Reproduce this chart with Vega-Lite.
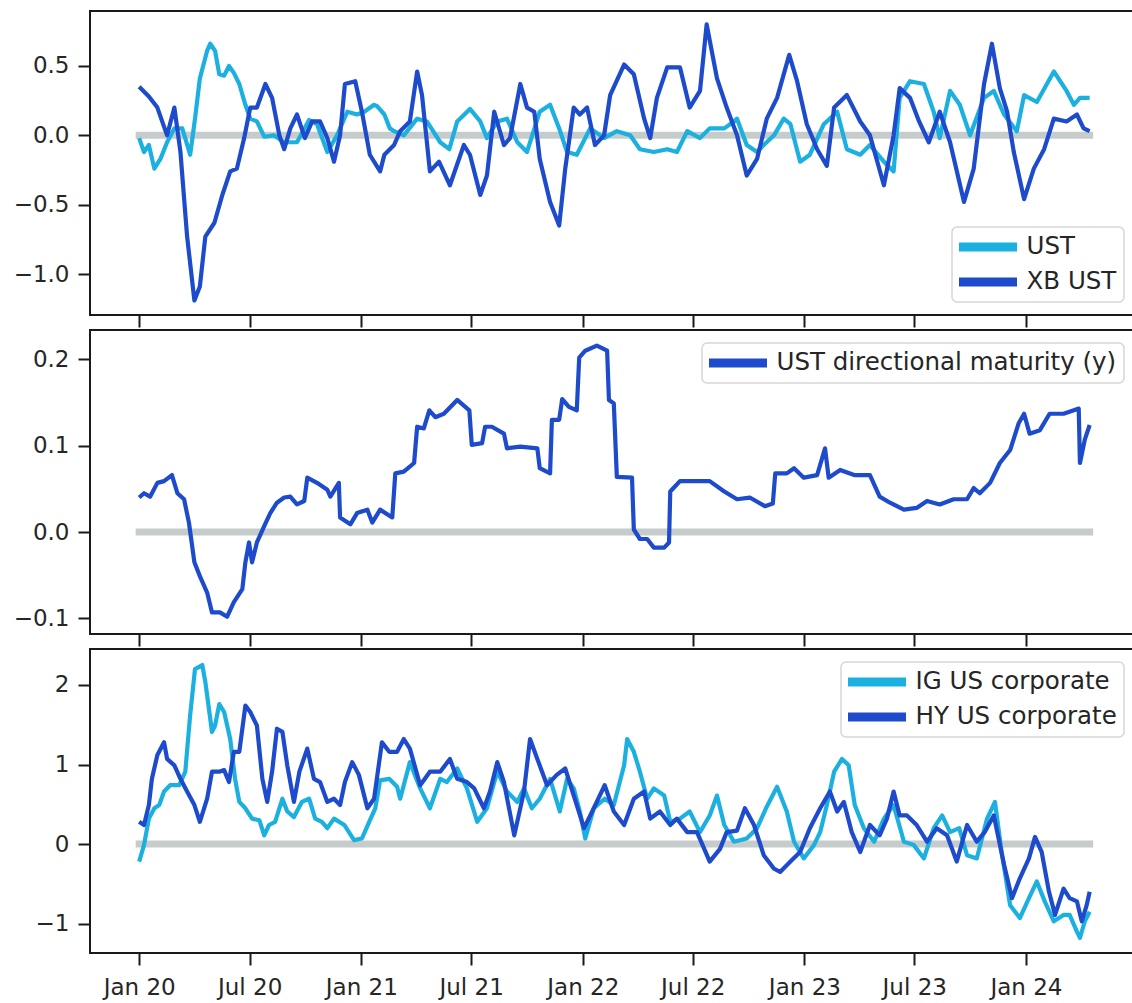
{
  "$schema": "https://vega.github.io/schema/vega-lite/v6.json",
  "background": "white",
  "padding": {"left": 12, "top": 10, "right": 0, "bottom": 0},
  "spacing": 15,
  "bounds": "flush",
  "resolve": {"scale": {"color": "independent", "x": "independent", "y": "independent"}, "legend": {"color": "independent"}},
  "config": {
    "font": "DejaVu Sans",
    "view": {"stroke": "#1a1a1a", "strokeWidth": 2},
    "axis": {"grid": false, "domain": false, "tickSize": 12, "tickWidth": 2, "tickColor": "#1a1a1a", "labelFont": "DejaVu Sans", "labelFontSize": 23, "labelColor": "#262626", "labelPadding": 9, "labelFlush": false, "labelOverlap": false},
    "legend": {"title": null, "symbolType": "stroke", "symbolSize": 3364, "symbolStrokeWidth": 9, "labelFont": "DejaVu Sans", "labelFontSize": 24.5, "labelColor": "#262626", "strokeColor": "#d6d6d6", "strokeWidth": 1.5, "fillColor": "rgba(255,255,255,0.85)", "cornerRadius": 5, "padding": 7, "clipHeight": 26, "rowPadding": 9, "labelOffset": 5, "symbolOffset": -4.5, "offset": 13, "labelLimit": 500}
  },
  "datasets": {
    "zero": [{"date": "2020-01-01", "value": 0}, {"date": "2024-04-15", "value": 0}],
    "ust": [
      {"date": "2020-01-01", "series": "UST", "value": -0.02},
      {"date": "2020-01-09", "series": "UST", "value": -0.12},
      {"date": "2020-01-17", "series": "UST", "value": -0.07},
      {"date": "2020-01-26", "series": "UST", "value": -0.24},
      {"date": "2020-02-05", "series": "UST", "value": -0.17},
      {"date": "2020-02-16", "series": "UST", "value": -0.05},
      {"date": "2020-02-28", "series": "UST", "value": 0.05},
      {"date": "2020-03-12", "series": "UST", "value": 0.05},
      {"date": "2020-03-25", "series": "UST", "value": -0.14},
      {"date": "2020-04-02", "series": "UST", "value": 0.12},
      {"date": "2020-04-10", "series": "UST", "value": 0.41},
      {"date": "2020-04-22", "series": "UST", "value": 0.61},
      {"date": "2020-04-27", "series": "UST", "value": 0.66},
      {"date": "2020-05-05", "series": "UST", "value": 0.61},
      {"date": "2020-05-12", "series": "UST", "value": 0.44},
      {"date": "2020-05-20", "series": "UST", "value": 0.43},
      {"date": "2020-05-28", "series": "UST", "value": 0.50},
      {"date": "2020-06-05", "series": "UST", "value": 0.45},
      {"date": "2020-06-14", "series": "UST", "value": 0.37},
      {"date": "2020-06-24", "series": "UST", "value": 0.22},
      {"date": "2020-07-02", "series": "UST", "value": 0.12},
      {"date": "2020-07-13", "series": "UST", "value": 0.10},
      {"date": "2020-07-25", "series": "UST", "value": -0.01},
      {"date": "2020-08-10", "series": "UST", "value": 0.0},
      {"date": "2020-08-27", "series": "UST", "value": -0.05},
      {"date": "2020-09-17", "series": "UST", "value": -0.05},
      {"date": "2020-10-07", "series": "UST", "value": 0.11},
      {"date": "2020-10-20", "series": "UST", "value": 0.08},
      {"date": "2020-11-06", "series": "UST", "value": -0.12},
      {"date": "2020-11-22", "series": "UST", "value": 0.0},
      {"date": "2020-12-09", "series": "UST", "value": 0.17},
      {"date": "2020-12-25", "series": "UST", "value": 0.15},
      {"date": "2021-01-06", "series": "UST", "value": 0.17},
      {"date": "2021-01-22", "series": "UST", "value": 0.22},
      {"date": "2021-01-27", "series": "UST", "value": 0.21},
      {"date": "2021-02-08", "series": "UST", "value": 0.15},
      {"date": "2021-02-17", "series": "UST", "value": 0.05},
      {"date": "2021-02-24", "series": "UST", "value": 0.03},
      {"date": "2021-03-12", "series": "UST", "value": 0.0},
      {"date": "2021-04-03", "series": "UST", "value": 0.12},
      {"date": "2021-04-19", "series": "UST", "value": 0.10},
      {"date": "2021-05-11", "series": "UST", "value": -0.05},
      {"date": "2021-05-26", "series": "UST", "value": -0.10},
      {"date": "2021-06-08", "series": "UST", "value": 0.10},
      {"date": "2021-06-29", "series": "UST", "value": 0.19},
      {"date": "2021-07-16", "series": "UST", "value": 0.10},
      {"date": "2021-07-27", "series": "UST", "value": -0.02},
      {"date": "2021-08-13", "series": "UST", "value": 0.10},
      {"date": "2021-08-29", "series": "UST", "value": 0.12},
      {"date": "2021-09-15", "series": "UST", "value": -0.05},
      {"date": "2021-10-01", "series": "UST", "value": -0.12},
      {"date": "2021-10-22", "series": "UST", "value": 0.17},
      {"date": "2021-11-08", "series": "UST", "value": 0.22},
      {"date": "2021-11-23", "series": "UST", "value": 0.05},
      {"date": "2021-12-06", "series": "UST", "value": -0.12},
      {"date": "2021-12-22", "series": "UST", "value": -0.14},
      {"date": "2022-01-13", "series": "UST", "value": 0.05},
      {"date": "2022-02-05", "series": "UST", "value": -0.02},
      {"date": "2022-02-26", "series": "UST", "value": 0.03},
      {"date": "2022-03-20", "series": "UST", "value": 0.0},
      {"date": "2022-04-05", "series": "UST", "value": -0.10},
      {"date": "2022-04-28", "series": "UST", "value": -0.12},
      {"date": "2022-05-20", "series": "UST", "value": -0.10},
      {"date": "2022-06-05", "series": "UST", "value": -0.12},
      {"date": "2022-06-22", "series": "UST", "value": 0.03},
      {"date": "2022-07-13", "series": "UST", "value": -0.02},
      {"date": "2022-07-29", "series": "UST", "value": 0.05},
      {"date": "2022-08-22", "series": "UST", "value": 0.05},
      {"date": "2022-09-07", "series": "UST", "value": 0.10},
      {"date": "2022-09-12", "series": "UST", "value": 0.12},
      {"date": "2022-09-28", "series": "UST", "value": -0.07},
      {"date": "2022-10-15", "series": "UST", "value": -0.12},
      {"date": "2022-10-26", "series": "UST", "value": -0.07},
      {"date": "2022-11-12", "series": "UST", "value": 0.0},
      {"date": "2022-11-28", "series": "UST", "value": 0.12},
      {"date": "2022-12-09", "series": "UST", "value": 0.08},
      {"date": "2022-12-25", "series": "UST", "value": -0.19},
      {"date": "2023-01-10", "series": "UST", "value": -0.14},
      {"date": "2023-02-02", "series": "UST", "value": 0.08},
      {"date": "2023-02-24", "series": "UST", "value": 0.17},
      {"date": "2023-03-12", "series": "UST", "value": -0.10},
      {"date": "2023-04-03", "series": "UST", "value": -0.14},
      {"date": "2023-04-19", "series": "UST", "value": -0.07},
      {"date": "2023-05-12", "series": "UST", "value": -0.19},
      {"date": "2023-05-28", "series": "UST", "value": -0.26},
      {"date": "2023-06-07", "series": "UST", "value": 0.27},
      {"date": "2023-06-24", "series": "UST", "value": 0.39},
      {"date": "2023-07-17", "series": "UST", "value": 0.37},
      {"date": "2023-08-02", "series": "UST", "value": 0.17},
      {"date": "2023-08-12", "series": "UST", "value": -0.02},
      {"date": "2023-08-29", "series": "UST", "value": 0.32},
      {"date": "2023-09-14", "series": "UST", "value": 0.22},
      {"date": "2023-10-01", "series": "UST", "value": 0.0},
      {"date": "2023-10-24", "series": "UST", "value": 0.27},
      {"date": "2023-11-09", "series": "UST", "value": 0.32},
      {"date": "2023-11-26", "series": "UST", "value": 0.15},
      {"date": "2023-12-17", "series": "UST", "value": 0.03},
      {"date": "2023-12-29", "series": "UST", "value": 0.29},
      {"date": "2024-01-19", "series": "UST", "value": 0.24},
      {"date": "2024-02-16", "series": "UST", "value": 0.46},
      {"date": "2024-03-08", "series": "UST", "value": 0.32},
      {"date": "2024-03-20", "series": "UST", "value": 0.22},
      {"date": "2024-03-30", "series": "UST", "value": 0.27},
      {"date": "2024-04-15", "series": "UST", "value": 0.27},
      {"date": "2020-01-01", "series": "XB UST", "value": 0.35},
      {"date": "2020-01-17", "series": "XB UST", "value": 0.28},
      {"date": "2020-01-31", "series": "XB UST", "value": 0.20},
      {"date": "2020-02-16", "series": "XB UST", "value": 0.0},
      {"date": "2020-02-28", "series": "XB UST", "value": 0.20},
      {"date": "2020-03-09", "series": "XB UST", "value": -0.12},
      {"date": "2020-03-20", "series": "XB UST", "value": -0.73},
      {"date": "2020-04-01", "series": "XB UST", "value": -1.19},
      {"date": "2020-04-10", "series": "XB UST", "value": -1.09},
      {"date": "2020-04-19", "series": "XB UST", "value": -0.73},
      {"date": "2020-05-04", "series": "XB UST", "value": -0.63},
      {"date": "2020-05-17", "series": "XB UST", "value": -0.43},
      {"date": "2020-05-30", "series": "XB UST", "value": -0.26},
      {"date": "2020-06-10", "series": "XB UST", "value": -0.24},
      {"date": "2020-06-22", "series": "XB UST", "value": -0.02},
      {"date": "2020-07-02", "series": "XB UST", "value": 0.20},
      {"date": "2020-07-13", "series": "XB UST", "value": 0.20},
      {"date": "2020-07-27", "series": "XB UST", "value": 0.37},
      {"date": "2020-08-07", "series": "XB UST", "value": 0.27},
      {"date": "2020-08-19", "series": "XB UST", "value": 0.0},
      {"date": "2020-08-27", "series": "XB UST", "value": -0.10},
      {"date": "2020-09-06", "series": "XB UST", "value": 0.05},
      {"date": "2020-09-17", "series": "XB UST", "value": 0.15},
      {"date": "2020-09-30", "series": "XB UST", "value": -0.02},
      {"date": "2020-10-12", "series": "XB UST", "value": 0.10},
      {"date": "2020-10-25", "series": "XB UST", "value": 0.10},
      {"date": "2020-11-06", "series": "XB UST", "value": -0.02},
      {"date": "2020-11-17", "series": "XB UST", "value": -0.19},
      {"date": "2020-11-27", "series": "XB UST", "value": 0.0},
      {"date": "2020-12-05", "series": "XB UST", "value": 0.37},
      {"date": "2020-12-22", "series": "XB UST", "value": 0.39},
      {"date": "2021-01-02", "series": "XB UST", "value": 0.17},
      {"date": "2021-01-15", "series": "XB UST", "value": -0.14},
      {"date": "2021-02-01", "series": "XB UST", "value": -0.26},
      {"date": "2021-02-08", "series": "XB UST", "value": -0.14},
      {"date": "2021-02-24", "series": "XB UST", "value": -0.07},
      {"date": "2021-03-06", "series": "XB UST", "value": 0.03},
      {"date": "2021-03-22", "series": "XB UST", "value": 0.10},
      {"date": "2021-04-03", "series": "XB UST", "value": 0.46},
      {"date": "2021-04-11", "series": "XB UST", "value": 0.29},
      {"date": "2021-04-24", "series": "XB UST", "value": -0.26},
      {"date": "2021-05-09", "series": "XB UST", "value": -0.19},
      {"date": "2021-05-27", "series": "XB UST", "value": -0.36},
      {"date": "2021-06-19", "series": "XB UST", "value": -0.07},
      {"date": "2021-06-29", "series": "XB UST", "value": -0.14},
      {"date": "2021-07-16", "series": "XB UST", "value": -0.43},
      {"date": "2021-07-27", "series": "XB UST", "value": -0.29},
      {"date": "2021-08-08", "series": "XB UST", "value": 0.17},
      {"date": "2021-08-24", "series": "XB UST", "value": -0.07},
      {"date": "2021-09-03", "series": "XB UST", "value": -0.02},
      {"date": "2021-09-20", "series": "XB UST", "value": 0.37},
      {"date": "2021-10-01", "series": "XB UST", "value": 0.20},
      {"date": "2021-10-13", "series": "XB UST", "value": 0.17},
      {"date": "2021-10-22", "series": "XB UST", "value": -0.17},
      {"date": "2021-11-08", "series": "XB UST", "value": -0.48},
      {"date": "2021-11-23", "series": "XB UST", "value": -0.65},
      {"date": "2021-12-03", "series": "XB UST", "value": -0.24},
      {"date": "2021-12-17", "series": "XB UST", "value": 0.20},
      {"date": "2021-12-27", "series": "XB UST", "value": 0.15},
      {"date": "2022-01-08", "series": "XB UST", "value": 0.20},
      {"date": "2022-01-21", "series": "XB UST", "value": -0.07},
      {"date": "2022-02-05", "series": "XB UST", "value": 0.0},
      {"date": "2022-02-15", "series": "XB UST", "value": 0.29},
      {"date": "2022-03-10", "series": "XB UST", "value": 0.51},
      {"date": "2022-03-26", "series": "XB UST", "value": 0.44},
      {"date": "2022-04-12", "series": "XB UST", "value": 0.12},
      {"date": "2022-04-22", "series": "XB UST", "value": -0.02},
      {"date": "2022-05-03", "series": "XB UST", "value": 0.27},
      {"date": "2022-05-20", "series": "XB UST", "value": 0.49},
      {"date": "2022-06-10", "series": "XB UST", "value": 0.49},
      {"date": "2022-06-26", "series": "XB UST", "value": 0.20},
      {"date": "2022-07-13", "series": "XB UST", "value": 0.32},
      {"date": "2022-07-24", "series": "XB UST", "value": 0.80},
      {"date": "2022-08-10", "series": "XB UST", "value": 0.41},
      {"date": "2022-08-26", "series": "XB UST", "value": 0.20},
      {"date": "2022-09-12", "series": "XB UST", "value": 0.0},
      {"date": "2022-09-28", "series": "XB UST", "value": -0.29},
      {"date": "2022-10-15", "series": "XB UST", "value": -0.17},
      {"date": "2022-10-31", "series": "XB UST", "value": 0.12},
      {"date": "2022-11-17", "series": "XB UST", "value": 0.27},
      {"date": "2022-12-07", "series": "XB UST", "value": 0.58},
      {"date": "2022-12-20", "series": "XB UST", "value": 0.39},
      {"date": "2023-01-05", "series": "XB UST", "value": 0.08},
      {"date": "2023-01-22", "series": "XB UST", "value": -0.10},
      {"date": "2023-02-07", "series": "XB UST", "value": -0.22},
      {"date": "2023-02-19", "series": "XB UST", "value": 0.20},
      {"date": "2023-03-12", "series": "XB UST", "value": 0.29},
      {"date": "2023-04-03", "series": "XB UST", "value": 0.10},
      {"date": "2023-04-19", "series": "XB UST", "value": 0.0},
      {"date": "2023-05-12", "series": "XB UST", "value": -0.36},
      {"date": "2023-05-28", "series": "XB UST", "value": 0.0},
      {"date": "2023-06-07", "series": "XB UST", "value": 0.34},
      {"date": "2023-06-24", "series": "XB UST", "value": 0.27},
      {"date": "2023-07-09", "series": "XB UST", "value": 0.10},
      {"date": "2023-07-25", "series": "XB UST", "value": -0.05},
      {"date": "2023-08-12", "series": "XB UST", "value": 0.17},
      {"date": "2023-08-29", "series": "XB UST", "value": -0.05},
      {"date": "2023-09-21", "series": "XB UST", "value": -0.48},
      {"date": "2023-10-07", "series": "XB UST", "value": -0.24},
      {"date": "2023-10-24", "series": "XB UST", "value": 0.37},
      {"date": "2023-11-06", "series": "XB UST", "value": 0.66},
      {"date": "2023-11-19", "series": "XB UST", "value": 0.34},
      {"date": "2023-12-01", "series": "XB UST", "value": 0.17},
      {"date": "2023-12-12", "series": "XB UST", "value": -0.12},
      {"date": "2023-12-29", "series": "XB UST", "value": -0.46},
      {"date": "2024-01-14", "series": "XB UST", "value": -0.24},
      {"date": "2024-01-31", "series": "XB UST", "value": -0.10},
      {"date": "2024-02-16", "series": "XB UST", "value": 0.12},
      {"date": "2024-03-08", "series": "XB UST", "value": 0.10},
      {"date": "2024-03-25", "series": "XB UST", "value": 0.15},
      {"date": "2024-04-05", "series": "XB UST", "value": 0.05},
      {"date": "2024-04-15", "series": "XB UST", "value": 0.03}
    ],
    "dm": [
      {"date": "2020-01-01", "series": "UST directional maturity (y)", "value": 0.040},
      {"date": "2020-01-09", "series": "UST directional maturity (y)", "value": 0.045},
      {"date": "2020-01-19", "series": "UST directional maturity (y)", "value": 0.041},
      {"date": "2020-01-31", "series": "UST directional maturity (y)", "value": 0.057},
      {"date": "2020-02-11", "series": "UST directional maturity (y)", "value": 0.059},
      {"date": "2020-02-24", "series": "UST directional maturity (y)", "value": 0.066},
      {"date": "2020-03-04", "series": "UST directional maturity (y)", "value": 0.045},
      {"date": "2020-03-15", "series": "UST directional maturity (y)", "value": 0.038},
      {"date": "2020-03-23", "series": "UST directional maturity (y)", "value": 0.011},
      {"date": "2020-04-01", "series": "UST directional maturity (y)", "value": -0.035},
      {"date": "2020-04-10", "series": "UST directional maturity (y)", "value": -0.051},
      {"date": "2020-04-22", "series": "UST directional maturity (y)", "value": -0.070},
      {"date": "2020-04-30", "series": "UST directional maturity (y)", "value": -0.093},
      {"date": "2020-05-13", "series": "UST directional maturity (y)", "value": -0.093},
      {"date": "2020-05-25", "series": "UST directional maturity (y)", "value": -0.098},
      {"date": "2020-06-05", "series": "UST directional maturity (y)", "value": -0.081},
      {"date": "2020-06-19", "series": "UST directional maturity (y)", "value": -0.066},
      {"date": "2020-06-24", "series": "UST directional maturity (y)", "value": -0.035},
      {"date": "2020-06-30", "series": "UST directional maturity (y)", "value": -0.012},
      {"date": "2020-07-05", "series": "UST directional maturity (y)", "value": -0.035},
      {"date": "2020-07-13", "series": "UST directional maturity (y)", "value": -0.012},
      {"date": "2020-07-25", "series": "UST directional maturity (y)", "value": 0.007},
      {"date": "2020-08-04", "series": "UST directional maturity (y)", "value": 0.022},
      {"date": "2020-08-15", "series": "UST directional maturity (y)", "value": 0.034},
      {"date": "2020-08-27", "series": "UST directional maturity (y)", "value": 0.040},
      {"date": "2020-09-06", "series": "UST directional maturity (y)", "value": 0.041},
      {"date": "2020-09-17", "series": "UST directional maturity (y)", "value": 0.032},
      {"date": "2020-09-29", "series": "UST directional maturity (y)", "value": 0.036},
      {"date": "2020-10-04", "series": "UST directional maturity (y)", "value": 0.063},
      {"date": "2020-10-20", "series": "UST directional maturity (y)", "value": 0.057},
      {"date": "2020-11-06", "series": "UST directional maturity (y)", "value": 0.049},
      {"date": "2020-11-11", "series": "UST directional maturity (y)", "value": 0.041},
      {"date": "2020-11-25", "series": "UST directional maturity (y)", "value": 0.057},
      {"date": "2020-11-27", "series": "UST directional maturity (y)", "value": 0.017},
      {"date": "2020-12-14", "series": "UST directional maturity (y)", "value": 0.009},
      {"date": "2020-12-25", "series": "UST directional maturity (y)", "value": 0.022},
      {"date": "2021-01-11", "series": "UST directional maturity (y)", "value": 0.026},
      {"date": "2021-01-19", "series": "UST directional maturity (y)", "value": 0.011},
      {"date": "2021-02-01", "series": "UST directional maturity (y)", "value": 0.026},
      {"date": "2021-02-21", "series": "UST directional maturity (y)", "value": 0.017},
      {"date": "2021-02-26", "series": "UST directional maturity (y)", "value": 0.068},
      {"date": "2021-03-12", "series": "UST directional maturity (y)", "value": 0.070},
      {"date": "2021-03-29", "series": "UST directional maturity (y)", "value": 0.080},
      {"date": "2021-04-03", "series": "UST directional maturity (y)", "value": 0.122},
      {"date": "2021-04-14", "series": "UST directional maturity (y)", "value": 0.120},
      {"date": "2021-04-23", "series": "UST directional maturity (y)", "value": 0.141},
      {"date": "2021-05-03", "series": "UST directional maturity (y)", "value": 0.133},
      {"date": "2021-05-17", "series": "UST directional maturity (y)", "value": 0.137},
      {"date": "2021-06-08", "series": "UST directional maturity (y)", "value": 0.153},
      {"date": "2021-06-28", "series": "UST directional maturity (y)", "value": 0.141},
      {"date": "2021-07-02", "series": "UST directional maturity (y)", "value": 0.101},
      {"date": "2021-07-19", "series": "UST directional maturity (y)", "value": 0.103},
      {"date": "2021-07-24", "series": "UST directional maturity (y)", "value": 0.122},
      {"date": "2021-08-04", "series": "UST directional maturity (y)", "value": 0.122},
      {"date": "2021-08-24", "series": "UST directional maturity (y)", "value": 0.114},
      {"date": "2021-08-29", "series": "UST directional maturity (y)", "value": 0.097},
      {"date": "2021-09-20", "series": "UST directional maturity (y)", "value": 0.099},
      {"date": "2021-10-18", "series": "UST directional maturity (y)", "value": 0.097},
      {"date": "2021-10-22", "series": "UST directional maturity (y)", "value": 0.074},
      {"date": "2021-11-08", "series": "UST directional maturity (y)", "value": 0.068},
      {"date": "2021-11-11", "series": "UST directional maturity (y)", "value": 0.130},
      {"date": "2021-11-23", "series": "UST directional maturity (y)", "value": 0.130},
      {"date": "2021-11-28", "series": "UST directional maturity (y)", "value": 0.154},
      {"date": "2021-12-09", "series": "UST directional maturity (y)", "value": 0.145},
      {"date": "2021-12-22", "series": "UST directional maturity (y)", "value": 0.141},
      {"date": "2021-12-26", "series": "UST directional maturity (y)", "value": 0.202},
      {"date": "2022-01-05", "series": "UST directional maturity (y)", "value": 0.210},
      {"date": "2022-01-24", "series": "UST directional maturity (y)", "value": 0.216},
      {"date": "2022-02-10", "series": "UST directional maturity (y)", "value": 0.210},
      {"date": "2022-02-13", "series": "UST directional maturity (y)", "value": 0.153},
      {"date": "2022-02-21", "series": "UST directional maturity (y)", "value": 0.149},
      {"date": "2022-02-26", "series": "UST directional maturity (y)", "value": 0.064},
      {"date": "2022-03-23", "series": "UST directional maturity (y)", "value": 0.063},
      {"date": "2022-03-26", "series": "UST directional maturity (y)", "value": 0.003},
      {"date": "2022-04-05", "series": "UST directional maturity (y)", "value": -0.008},
      {"date": "2022-04-17", "series": "UST directional maturity (y)", "value": -0.008},
      {"date": "2022-04-28", "series": "UST directional maturity (y)", "value": -0.018},
      {"date": "2022-05-15", "series": "UST directional maturity (y)", "value": -0.018},
      {"date": "2022-05-23", "series": "UST directional maturity (y)", "value": -0.012},
      {"date": "2022-05-25", "series": "UST directional maturity (y)", "value": 0.047},
      {"date": "2022-06-10", "series": "UST directional maturity (y)", "value": 0.059},
      {"date": "2022-07-03", "series": "UST directional maturity (y)", "value": 0.059},
      {"date": "2022-07-29", "series": "UST directional maturity (y)", "value": 0.059},
      {"date": "2022-08-22", "series": "UST directional maturity (y)", "value": 0.047},
      {"date": "2022-09-12", "series": "UST directional maturity (y)", "value": 0.038},
      {"date": "2022-10-03", "series": "UST directional maturity (y)", "value": 0.040},
      {"date": "2022-10-28", "series": "UST directional maturity (y)", "value": 0.030},
      {"date": "2022-11-10", "series": "UST directional maturity (y)", "value": 0.033},
      {"date": "2022-11-14", "series": "UST directional maturity (y)", "value": 0.068},
      {"date": "2022-12-03", "series": "UST directional maturity (y)", "value": 0.068},
      {"date": "2022-12-15", "series": "UST directional maturity (y)", "value": 0.074},
      {"date": "2022-12-31", "series": "UST directional maturity (y)", "value": 0.063},
      {"date": "2023-01-22", "series": "UST directional maturity (y)", "value": 0.066},
      {"date": "2023-02-04", "series": "UST directional maturity (y)", "value": 0.097},
      {"date": "2023-02-10", "series": "UST directional maturity (y)", "value": 0.063},
      {"date": "2023-03-01", "series": "UST directional maturity (y)", "value": 0.072},
      {"date": "2023-03-24", "series": "UST directional maturity (y)", "value": 0.066},
      {"date": "2023-04-19", "series": "UST directional maturity (y)", "value": 0.066},
      {"date": "2023-05-05", "series": "UST directional maturity (y)", "value": 0.041},
      {"date": "2023-05-22", "series": "UST directional maturity (y)", "value": 0.034},
      {"date": "2023-06-14", "series": "UST directional maturity (y)", "value": 0.026},
      {"date": "2023-07-05", "series": "UST directional maturity (y)", "value": 0.028},
      {"date": "2023-07-22", "series": "UST directional maturity (y)", "value": 0.036},
      {"date": "2023-08-12", "series": "UST directional maturity (y)", "value": 0.032},
      {"date": "2023-09-04", "series": "UST directional maturity (y)", "value": 0.038},
      {"date": "2023-09-26", "series": "UST directional maturity (y)", "value": 0.038},
      {"date": "2023-10-07", "series": "UST directional maturity (y)", "value": 0.051},
      {"date": "2023-10-17", "series": "UST directional maturity (y)", "value": 0.045},
      {"date": "2023-11-03", "series": "UST directional maturity (y)", "value": 0.057},
      {"date": "2023-11-19", "series": "UST directional maturity (y)", "value": 0.080},
      {"date": "2023-12-06", "series": "UST directional maturity (y)", "value": 0.095},
      {"date": "2023-12-20", "series": "UST directional maturity (y)", "value": 0.126},
      {"date": "2023-12-29", "series": "UST directional maturity (y)", "value": 0.137},
      {"date": "2024-01-07", "series": "UST directional maturity (y)", "value": 0.114},
      {"date": "2024-01-24", "series": "UST directional maturity (y)", "value": 0.118},
      {"date": "2024-02-09", "series": "UST directional maturity (y)", "value": 0.137},
      {"date": "2024-03-03", "series": "UST directional maturity (y)", "value": 0.137},
      {"date": "2024-03-20", "series": "UST directional maturity (y)", "value": 0.141},
      {"date": "2024-03-28", "series": "UST directional maturity (y)", "value": 0.143},
      {"date": "2024-03-30", "series": "UST directional maturity (y)", "value": 0.080},
      {"date": "2024-04-07", "series": "UST directional maturity (y)", "value": 0.107},
      {"date": "2024-04-15", "series": "UST directional maturity (y)", "value": 0.124}
    ],
    "corp": [
      {"date": "2020-01-01", "series": "IG US corporate", "value": -0.22},
      {"date": "2020-01-09", "series": "IG US corporate", "value": -0.01},
      {"date": "2020-01-17", "series": "IG US corporate", "value": 0.32},
      {"date": "2020-01-26", "series": "IG US corporate", "value": 0.45},
      {"date": "2020-02-03", "series": "IG US corporate", "value": 0.49},
      {"date": "2020-02-11", "series": "IG US corporate", "value": 0.66},
      {"date": "2020-02-21", "series": "IG US corporate", "value": 0.74},
      {"date": "2020-03-07", "series": "IG US corporate", "value": 0.74},
      {"date": "2020-03-17", "series": "IG US corporate", "value": 0.91},
      {"date": "2020-03-25", "series": "IG US corporate", "value": 1.62},
      {"date": "2020-04-02", "series": "IG US corporate", "value": 2.20},
      {"date": "2020-04-14", "series": "IG US corporate", "value": 2.25},
      {"date": "2020-04-19", "series": "IG US corporate", "value": 2.04},
      {"date": "2020-04-30", "series": "IG US corporate", "value": 1.41},
      {"date": "2020-05-05", "series": "IG US corporate", "value": 1.49},
      {"date": "2020-05-12", "series": "IG US corporate", "value": 1.76},
      {"date": "2020-05-20", "series": "IG US corporate", "value": 1.66},
      {"date": "2020-05-30", "series": "IG US corporate", "value": 1.32},
      {"date": "2020-06-07", "series": "IG US corporate", "value": 0.82},
      {"date": "2020-06-14", "series": "IG US corporate", "value": 0.53},
      {"date": "2020-06-24", "series": "IG US corporate", "value": 0.45},
      {"date": "2020-07-05", "series": "IG US corporate", "value": 0.32},
      {"date": "2020-07-17", "series": "IG US corporate", "value": 0.30},
      {"date": "2020-07-25", "series": "IG US corporate", "value": 0.11},
      {"date": "2020-08-02", "series": "IG US corporate", "value": 0.24},
      {"date": "2020-08-12", "series": "IG US corporate", "value": 0.28},
      {"date": "2020-08-24", "series": "IG US corporate", "value": 0.57},
      {"date": "2020-09-01", "series": "IG US corporate", "value": 0.41},
      {"date": "2020-09-12", "series": "IG US corporate", "value": 0.34},
      {"date": "2020-09-25", "series": "IG US corporate", "value": 0.53},
      {"date": "2020-10-07", "series": "IG US corporate", "value": 0.57},
      {"date": "2020-10-17", "series": "IG US corporate", "value": 0.32},
      {"date": "2020-10-28", "series": "IG US corporate", "value": 0.28},
      {"date": "2020-11-06", "series": "IG US corporate", "value": 0.20},
      {"date": "2020-11-17", "series": "IG US corporate", "value": 0.32},
      {"date": "2020-12-04", "series": "IG US corporate", "value": 0.24},
      {"date": "2020-12-20", "series": "IG US corporate", "value": 0.05},
      {"date": "2021-01-02", "series": "IG US corporate", "value": 0.07},
      {"date": "2021-01-14", "series": "IG US corporate", "value": 0.28},
      {"date": "2021-01-24", "series": "IG US corporate", "value": 0.45},
      {"date": "2021-02-01", "series": "IG US corporate", "value": 0.80},
      {"date": "2021-02-16", "series": "IG US corporate", "value": 0.82},
      {"date": "2021-03-01", "series": "IG US corporate", "value": 0.72},
      {"date": "2021-03-06", "series": "IG US corporate", "value": 0.57},
      {"date": "2021-03-22", "series": "IG US corporate", "value": 1.03},
      {"date": "2021-04-08", "series": "IG US corporate", "value": 0.70},
      {"date": "2021-04-24", "series": "IG US corporate", "value": 0.45},
      {"date": "2021-05-11", "series": "IG US corporate", "value": 0.82},
      {"date": "2021-05-22", "series": "IG US corporate", "value": 0.78},
      {"date": "2021-06-08", "series": "IG US corporate", "value": 0.95},
      {"date": "2021-06-24", "series": "IG US corporate", "value": 0.70},
      {"date": "2021-07-11", "series": "IG US corporate", "value": 0.28},
      {"date": "2021-07-27", "series": "IG US corporate", "value": 0.45},
      {"date": "2021-08-13", "series": "IG US corporate", "value": 0.91},
      {"date": "2021-08-29", "series": "IG US corporate", "value": 0.66},
      {"date": "2021-09-15", "series": "IG US corporate", "value": 0.53},
      {"date": "2021-09-26", "series": "IG US corporate", "value": 0.70},
      {"date": "2021-10-09", "series": "IG US corporate", "value": 0.45},
      {"date": "2021-10-22", "series": "IG US corporate", "value": 0.57},
      {"date": "2021-11-08", "series": "IG US corporate", "value": 0.82},
      {"date": "2021-11-24", "series": "IG US corporate", "value": 0.41},
      {"date": "2021-12-06", "series": "IG US corporate", "value": 0.82},
      {"date": "2021-12-17", "series": "IG US corporate", "value": 0.70},
      {"date": "2021-12-27", "series": "IG US corporate", "value": 0.41},
      {"date": "2022-01-05", "series": "IG US corporate", "value": 0.07},
      {"date": "2022-01-19", "series": "IG US corporate", "value": 0.45},
      {"date": "2022-02-06", "series": "IG US corporate", "value": 0.57},
      {"date": "2022-02-21", "series": "IG US corporate", "value": 0.49},
      {"date": "2022-03-10", "series": "IG US corporate", "value": 0.99},
      {"date": "2022-03-15", "series": "IG US corporate", "value": 1.32},
      {"date": "2022-03-26", "series": "IG US corporate", "value": 1.16},
      {"date": "2022-04-05", "series": "IG US corporate", "value": 0.91},
      {"date": "2022-04-17", "series": "IG US corporate", "value": 0.57},
      {"date": "2022-04-28", "series": "IG US corporate", "value": 0.70},
      {"date": "2022-05-15", "series": "IG US corporate", "value": 0.61},
      {"date": "2022-05-25", "series": "IG US corporate", "value": 0.28},
      {"date": "2022-06-10", "series": "IG US corporate", "value": 0.32},
      {"date": "2022-06-26", "series": "IG US corporate", "value": 0.41},
      {"date": "2022-07-13", "series": "IG US corporate", "value": 0.15},
      {"date": "2022-07-29", "series": "IG US corporate", "value": 0.36},
      {"date": "2022-08-10", "series": "IG US corporate", "value": 0.61},
      {"date": "2022-08-22", "series": "IG US corporate", "value": 0.24},
      {"date": "2022-09-07", "series": "IG US corporate", "value": 0.03},
      {"date": "2022-09-28", "series": "IG US corporate", "value": 0.07},
      {"date": "2022-10-15", "series": "IG US corporate", "value": 0.20},
      {"date": "2022-10-31", "series": "IG US corporate", "value": 0.47},
      {"date": "2022-11-17", "series": "IG US corporate", "value": 0.72},
      {"date": "2022-12-03", "series": "IG US corporate", "value": 0.41},
      {"date": "2022-12-15", "series": "IG US corporate", "value": 0.03},
      {"date": "2022-12-31", "series": "IG US corporate", "value": -0.18},
      {"date": "2023-01-17", "series": "IG US corporate", "value": -0.01},
      {"date": "2023-01-27", "series": "IG US corporate", "value": 0.15},
      {"date": "2023-02-07", "series": "IG US corporate", "value": 0.49},
      {"date": "2023-02-19", "series": "IG US corporate", "value": 0.91},
      {"date": "2023-03-04", "series": "IG US corporate", "value": 1.07},
      {"date": "2023-03-15", "series": "IG US corporate", "value": 0.99},
      {"date": "2023-03-25", "series": "IG US corporate", "value": 0.49},
      {"date": "2023-04-09", "series": "IG US corporate", "value": 0.20},
      {"date": "2023-04-26", "series": "IG US corporate", "value": 0.03},
      {"date": "2023-05-12", "series": "IG US corporate", "value": 0.32},
      {"date": "2023-05-28", "series": "IG US corporate", "value": 0.49},
      {"date": "2023-06-14", "series": "IG US corporate", "value": 0.03},
      {"date": "2023-06-30", "series": "IG US corporate", "value": -0.01},
      {"date": "2023-07-17", "series": "IG US corporate", "value": -0.18},
      {"date": "2023-08-02", "series": "IG US corporate", "value": 0.20},
      {"date": "2023-08-16", "series": "IG US corporate", "value": 0.36},
      {"date": "2023-08-29", "series": "IG US corporate", "value": 0.15},
      {"date": "2023-09-13", "series": "IG US corporate", "value": 0.20},
      {"date": "2023-09-26", "series": "IG US corporate", "value": -0.14},
      {"date": "2023-10-12", "series": "IG US corporate", "value": -0.18},
      {"date": "2023-10-29", "series": "IG US corporate", "value": 0.32},
      {"date": "2023-11-11", "series": "IG US corporate", "value": 0.53},
      {"date": "2023-11-22", "series": "IG US corporate", "value": -0.10},
      {"date": "2023-12-06", "series": "IG US corporate", "value": -0.77},
      {"date": "2023-12-22", "series": "IG US corporate", "value": -0.93},
      {"date": "2024-01-06", "series": "IG US corporate", "value": -0.68},
      {"date": "2024-01-19", "series": "IG US corporate", "value": -0.47},
      {"date": "2024-02-01", "series": "IG US corporate", "value": -0.72},
      {"date": "2024-02-16", "series": "IG US corporate", "value": -0.97},
      {"date": "2024-03-03", "series": "IG US corporate", "value": -0.89},
      {"date": "2024-03-13", "series": "IG US corporate", "value": -0.89},
      {"date": "2024-03-25", "series": "IG US corporate", "value": -1.10},
      {"date": "2024-03-30", "series": "IG US corporate", "value": -1.18},
      {"date": "2024-04-07", "series": "IG US corporate", "value": -0.97},
      {"date": "2024-04-15", "series": "IG US corporate", "value": -0.85},
      {"date": "2020-01-01", "series": "HY US corporate", "value": 0.28},
      {"date": "2020-01-09", "series": "HY US corporate", "value": 0.24},
      {"date": "2020-01-17", "series": "HY US corporate", "value": 0.49},
      {"date": "2020-01-22", "series": "HY US corporate", "value": 0.82},
      {"date": "2020-01-31", "series": "HY US corporate", "value": 1.12},
      {"date": "2020-02-11", "series": "HY US corporate", "value": 1.28},
      {"date": "2020-02-16", "series": "HY US corporate", "value": 1.07},
      {"date": "2020-02-28", "series": "HY US corporate", "value": 0.99},
      {"date": "2020-03-09", "series": "HY US corporate", "value": 0.82},
      {"date": "2020-03-20", "series": "HY US corporate", "value": 0.66},
      {"date": "2020-04-01", "series": "HY US corporate", "value": 0.49},
      {"date": "2020-04-10", "series": "HY US corporate", "value": 0.28},
      {"date": "2020-04-22", "series": "HY US corporate", "value": 0.57},
      {"date": "2020-04-30", "series": "HY US corporate", "value": 0.91},
      {"date": "2020-05-12", "series": "HY US corporate", "value": 0.91},
      {"date": "2020-05-20", "series": "HY US corporate", "value": 0.93},
      {"date": "2020-05-28", "series": "HY US corporate", "value": 0.78},
      {"date": "2020-06-05", "series": "HY US corporate", "value": 1.16},
      {"date": "2020-06-14", "series": "HY US corporate", "value": 1.16},
      {"date": "2020-06-24", "series": "HY US corporate", "value": 1.74},
      {"date": "2020-07-02", "series": "HY US corporate", "value": 1.66},
      {"date": "2020-07-13", "series": "HY US corporate", "value": 1.49},
      {"date": "2020-07-22", "series": "HY US corporate", "value": 0.82},
      {"date": "2020-07-30", "series": "HY US corporate", "value": 0.53},
      {"date": "2020-08-07", "series": "HY US corporate", "value": 0.91},
      {"date": "2020-08-15", "series": "HY US corporate", "value": 1.45},
      {"date": "2020-08-24", "series": "HY US corporate", "value": 1.41},
      {"date": "2020-09-01", "series": "HY US corporate", "value": 0.99},
      {"date": "2020-09-12", "series": "HY US corporate", "value": 0.53},
      {"date": "2020-09-21", "series": "HY US corporate", "value": 0.91},
      {"date": "2020-10-04", "series": "HY US corporate", "value": 1.20},
      {"date": "2020-10-15", "series": "HY US corporate", "value": 0.82},
      {"date": "2020-10-25", "series": "HY US corporate", "value": 0.78},
      {"date": "2020-11-06", "series": "HY US corporate", "value": 0.53},
      {"date": "2020-11-17", "series": "HY US corporate", "value": 0.57},
      {"date": "2020-11-27", "series": "HY US corporate", "value": 0.49},
      {"date": "2020-12-05", "series": "HY US corporate", "value": 0.78},
      {"date": "2020-12-17", "series": "HY US corporate", "value": 1.03},
      {"date": "2020-12-28", "series": "HY US corporate", "value": 0.87},
      {"date": "2021-01-11", "series": "HY US corporate", "value": 0.45},
      {"date": "2021-01-22", "series": "HY US corporate", "value": 0.57},
      {"date": "2021-02-04", "series": "HY US corporate", "value": 1.28},
      {"date": "2021-02-16", "series": "HY US corporate", "value": 1.16},
      {"date": "2021-03-01", "series": "HY US corporate", "value": 1.16},
      {"date": "2021-03-12", "series": "HY US corporate", "value": 1.32},
      {"date": "2021-03-22", "series": "HY US corporate", "value": 1.20},
      {"date": "2021-04-08", "series": "HY US corporate", "value": 0.74},
      {"date": "2021-04-24", "series": "HY US corporate", "value": 0.91},
      {"date": "2021-05-11", "series": "HY US corporate", "value": 0.91},
      {"date": "2021-05-27", "series": "HY US corporate", "value": 1.07},
      {"date": "2021-06-08", "series": "HY US corporate", "value": 0.82},
      {"date": "2021-06-24", "series": "HY US corporate", "value": 0.78},
      {"date": "2021-07-06", "series": "HY US corporate", "value": 0.70},
      {"date": "2021-07-22", "series": "HY US corporate", "value": 0.45},
      {"date": "2021-08-01", "series": "HY US corporate", "value": 0.66},
      {"date": "2021-08-13", "series": "HY US corporate", "value": 1.03},
      {"date": "2021-08-24", "series": "HY US corporate", "value": 0.78},
      {"date": "2021-09-10", "series": "HY US corporate", "value": 0.11},
      {"date": "2021-09-26", "series": "HY US corporate", "value": 0.66},
      {"date": "2021-10-06", "series": "HY US corporate", "value": 1.32},
      {"date": "2021-10-18", "series": "HY US corporate", "value": 1.07},
      {"date": "2021-11-03", "series": "HY US corporate", "value": 0.74},
      {"date": "2021-11-19", "series": "HY US corporate", "value": 0.87},
      {"date": "2021-12-03", "series": "HY US corporate", "value": 0.95},
      {"date": "2021-12-17", "series": "HY US corporate", "value": 0.61},
      {"date": "2022-01-03", "series": "HY US corporate", "value": 0.20},
      {"date": "2022-01-19", "series": "HY US corporate", "value": 0.45},
      {"date": "2022-02-06", "series": "HY US corporate", "value": 0.74},
      {"date": "2022-02-21", "series": "HY US corporate", "value": 0.41},
      {"date": "2022-03-10", "series": "HY US corporate", "value": 0.24},
      {"date": "2022-03-26", "series": "HY US corporate", "value": 0.57},
      {"date": "2022-04-12", "series": "HY US corporate", "value": 0.66},
      {"date": "2022-04-22", "series": "HY US corporate", "value": 0.32},
      {"date": "2022-05-08", "series": "HY US corporate", "value": 0.41},
      {"date": "2022-05-25", "series": "HY US corporate", "value": 0.24},
      {"date": "2022-06-05", "series": "HY US corporate", "value": 0.32},
      {"date": "2022-06-22", "series": "HY US corporate", "value": 0.15},
      {"date": "2022-07-08", "series": "HY US corporate", "value": 0.15},
      {"date": "2022-07-20", "series": "HY US corporate", "value": -0.06},
      {"date": "2022-07-29", "series": "HY US corporate", "value": -0.22},
      {"date": "2022-08-15", "series": "HY US corporate", "value": -0.06},
      {"date": "2022-08-26", "series": "HY US corporate", "value": 0.15},
      {"date": "2022-09-12", "series": "HY US corporate", "value": 0.17},
      {"date": "2022-09-25", "series": "HY US corporate", "value": 0.45},
      {"date": "2022-10-10", "series": "HY US corporate", "value": 0.24},
      {"date": "2022-10-26", "series": "HY US corporate", "value": -0.14},
      {"date": "2022-11-12", "series": "HY US corporate", "value": -0.31},
      {"date": "2022-11-22", "series": "HY US corporate", "value": -0.35},
      {"date": "2022-12-09", "series": "HY US corporate", "value": -0.22},
      {"date": "2022-12-25", "series": "HY US corporate", "value": -0.10},
      {"date": "2023-01-10", "series": "HY US corporate", "value": 0.20},
      {"date": "2023-01-27", "series": "HY US corporate", "value": 0.45},
      {"date": "2023-02-12", "series": "HY US corporate", "value": 0.66},
      {"date": "2023-02-24", "series": "HY US corporate", "value": 0.41},
      {"date": "2023-03-07", "series": "HY US corporate", "value": 0.53},
      {"date": "2023-03-20", "series": "HY US corporate", "value": 0.15},
      {"date": "2023-04-03", "series": "HY US corporate", "value": -0.10},
      {"date": "2023-04-19", "series": "HY US corporate", "value": 0.24},
      {"date": "2023-05-05", "series": "HY US corporate", "value": 0.11},
      {"date": "2023-05-17", "series": "HY US corporate", "value": 0.32},
      {"date": "2023-05-28", "series": "HY US corporate", "value": 0.66},
      {"date": "2023-06-07", "series": "HY US corporate", "value": 0.36},
      {"date": "2023-06-19", "series": "HY US corporate", "value": 0.36},
      {"date": "2023-07-05", "series": "HY US corporate", "value": 0.24},
      {"date": "2023-07-22", "series": "HY US corporate", "value": 0.03},
      {"date": "2023-08-07", "series": "HY US corporate", "value": 0.20},
      {"date": "2023-08-24", "series": "HY US corporate", "value": 0.11},
      {"date": "2023-09-09", "series": "HY US corporate", "value": -0.22},
      {"date": "2023-09-26", "series": "HY US corporate", "value": 0.24},
      {"date": "2023-10-12", "series": "HY US corporate", "value": 0.03},
      {"date": "2023-10-25", "series": "HY US corporate", "value": 0.15},
      {"date": "2023-11-09", "series": "HY US corporate", "value": 0.36},
      {"date": "2023-11-26", "series": "HY US corporate", "value": -0.26},
      {"date": "2023-12-09", "series": "HY US corporate", "value": -0.68},
      {"date": "2023-12-22", "series": "HY US corporate", "value": -0.43},
      {"date": "2024-01-06", "series": "HY US corporate", "value": -0.18},
      {"date": "2024-01-16", "series": "HY US corporate", "value": 0.09},
      {"date": "2024-01-27", "series": "HY US corporate", "value": -0.10},
      {"date": "2024-02-08", "series": "HY US corporate", "value": -0.60},
      {"date": "2024-02-18", "series": "HY US corporate", "value": -0.89},
      {"date": "2024-03-03", "series": "HY US corporate", "value": -0.56},
      {"date": "2024-03-13", "series": "HY US corporate", "value": -0.68},
      {"date": "2024-03-25", "series": "HY US corporate", "value": -0.72},
      {"date": "2024-04-02", "series": "HY US corporate", "value": -0.97},
      {"date": "2024-04-10", "series": "HY US corporate", "value": -0.77},
      {"date": "2024-04-15", "series": "HY US corporate", "value": -0.60}
    ]
  },
  "vconcat": [
    {
      "width": 1047,
      "height": 304,
      "encoding": {
        "x": {"field": "date", "type": "temporal", "title": null, "scale": {"type": "utc", "nice": false, "domain": [{"year": 2019, "month": 10, "date": 12, "utc": true}, {"year": 2024, "month": 7, "date": 2, "utc": true}]}, "axis": {"labels": false, "title": null, "values": [{"year": 2020, "month": 1, "date": 1, "utc": true}, {"year": 2020, "month": 7, "date": 1, "utc": true}, {"year": 2021, "month": 1, "date": 1, "utc": true}, {"year": 2021, "month": 7, "date": 1, "utc": true}, {"year": 2022, "month": 1, "date": 1, "utc": true}, {"year": 2022, "month": 7, "date": 1, "utc": true}, {"year": 2023, "month": 1, "date": 1, "utc": true}, {"year": 2023, "month": 7, "date": 1, "utc": true}, {"year": 2024, "month": 1, "date": 1, "utc": true}]}},
        "y": {"field": "value", "type": "quantitative", "title": null, "scale": {"domain": [-1.295, 0.896], "nice": false, "zero": false}, "axis": {"title": null, "values": [-1.0, -0.5, 0.0, 0.5], "format": ".1f"}}
      },
      "layer": [
        {"data": {"name": "zero"}, "mark": {"type": "line", "color": "#c6cccc", "strokeWidth": 7, "strokeCap": "square"}},
        {
          "data": {"name": "ust"},
          "mark": {"type": "line", "strokeWidth": 4.2, "strokeJoin": "round"},
          "encoding": {
            "color": {"field": "series", "type": "nominal", "scale": {"domain": ["UST", "XB UST"], "range": ["#1cb0e0", "#1d4bcc"]}, "legend": {"orient": "bottom-right"}}
          }
        }
      ]
    },
    {
      "width": 1047,
      "height": 304,
      "encoding": {
        "x": {"field": "date", "type": "temporal", "title": null, "scale": {"type": "utc", "nice": false, "domain": [{"year": 2019, "month": 10, "date": 12, "utc": true}, {"year": 2024, "month": 7, "date": 2, "utc": true}]}, "axis": {"labels": false, "title": null, "values": [{"year": 2020, "month": 1, "date": 1, "utc": true}, {"year": 2020, "month": 7, "date": 1, "utc": true}, {"year": 2021, "month": 1, "date": 1, "utc": true}, {"year": 2021, "month": 7, "date": 1, "utc": true}, {"year": 2022, "month": 1, "date": 1, "utc": true}, {"year": 2022, "month": 7, "date": 1, "utc": true}, {"year": 2023, "month": 1, "date": 1, "utc": true}, {"year": 2023, "month": 7, "date": 1, "utc": true}, {"year": 2024, "month": 1, "date": 1, "utc": true}]}},
        "y": {"field": "value", "type": "quantitative", "title": null, "scale": {"domain": [-0.118, 0.234], "nice": false, "zero": false}, "axis": {"title": null, "values": [-0.1, 0.0, 0.1, 0.2], "format": ".1f"}}
      },
      "layer": [
        {"data": {"name": "zero"}, "mark": {"type": "line", "color": "#c6cccc", "strokeWidth": 7, "strokeCap": "square"}},
        {
          "data": {"name": "dm"},
          "mark": {"type": "line", "strokeWidth": 4.2, "strokeJoin": "round"},
          "encoding": {
            "color": {"field": "series", "type": "nominal", "scale": {"domain": ["UST directional maturity (y)"], "range": ["#1d4bcc"]}, "legend": {"orient": "top-right"}}
          }
        }
      ]
    },
    {
      "width": 1047,
      "height": 304,
      "encoding": {
        "x": {"field": "date", "type": "temporal", "title": null, "scale": {"type": "utc", "nice": false, "domain": [{"year": 2019, "month": 10, "date": 12, "utc": true}, {"year": 2024, "month": 7, "date": 2, "utc": true}]}, "axis": {"title": null, "labelPadding": 11, "labelExpr": "utcFormat(datum.value, '%b %y')", "values": [{"year": 2020, "month": 1, "date": 1, "utc": true}, {"year": 2020, "month": 7, "date": 1, "utc": true}, {"year": 2021, "month": 1, "date": 1, "utc": true}, {"year": 2021, "month": 7, "date": 1, "utc": true}, {"year": 2022, "month": 1, "date": 1, "utc": true}, {"year": 2022, "month": 7, "date": 1, "utc": true}, {"year": 2023, "month": 1, "date": 1, "utc": true}, {"year": 2023, "month": 7, "date": 1, "utc": true}, {"year": 2024, "month": 1, "date": 1, "utc": true}]}},
        "y": {"field": "value", "type": "quantitative", "title": null, "scale": {"domain": [-1.369, 2.452], "nice": false, "zero": false}, "axis": {"title": null, "values": [-1, 0, 1, 2], "format": "d"}}
      },
      "layer": [
        {"data": {"name": "zero"}, "mark": {"type": "line", "color": "#c6cccc", "strokeWidth": 7, "strokeCap": "square"}},
        {
          "data": {"name": "corp"},
          "mark": {"type": "line", "strokeWidth": 4.2, "strokeJoin": "round"},
          "encoding": {
            "color": {"field": "series", "type": "nominal", "scale": {"domain": ["IG US corporate", "HY US corporate"], "range": ["#1cb0e0", "#1d4bcc"]}, "legend": {"orient": "top-right"}}
          }
        }
      ]
    }
  ]
}
